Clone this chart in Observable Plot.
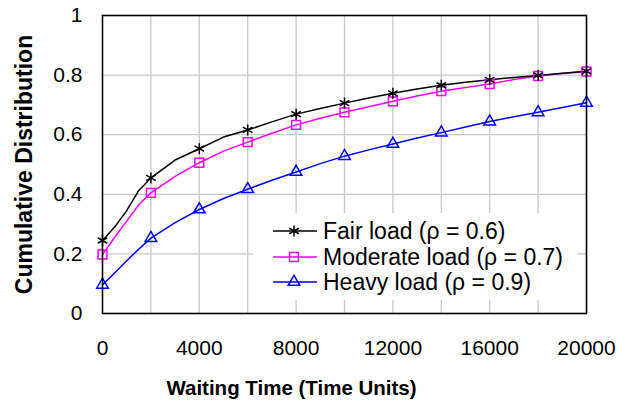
<!DOCTYPE html>
<html>
<head>
<meta charset="utf-8">
<script src="https://cdn.jsdelivr.net/npm/d3@7"></script>
<script src="https://cdn.jsdelivr.net/npm/@observablehq/plot@0.6"></script>
<style>
  html, body { margin: 0; padding: 0; background: white; }
  #chart { width: 617px; height: 404px; }
</style>
</head>
<body>
<div id="chart"></div>
<script>
// ---- data ----
const waitingTimes = [0, 500, 1000, 1500, 2000, 3000, 4000, 5000, 6000, 7000, 8000, 9000, 10000,
                      11000, 12000, 13000, 14000, 15000, 16000, 17000, 18000, 19000, 20000];
const fairLoad =     [0.245, 0.290, 0.345, 0.413, 0.455, 0.515, 0.553, 0.592, 0.616, 0.643, 0.669, 0.688, 0.706,
                      0.723, 0.739, 0.753, 0.766, 0.776, 0.784, 0.792, 0.799, 0.806, 0.813];
const moderateLoad = [0.198, 0.255, 0.310, 0.365, 0.405, 0.460, 0.506, 0.545, 0.575, 0.605, 0.633, 0.655, 0.675,
                      0.694, 0.712, 0.730, 0.746, 0.758, 0.770, 0.785, 0.797, 0.805, 0.812];
const heavyLoad =    [0.096, 0.136, 0.177, 0.216, 0.253, 0.305, 0.349, 0.386, 0.417, 0.447, 0.475, 0.503, 0.528,
                      0.549, 0.569, 0.589, 0.607, 0.626, 0.644, 0.660, 0.675, 0.691, 0.707];
const markerStep = 2000;
const seriesNames = ["Fair load (ρ = 0.6)", "Moderate load (ρ = 0.7)", "Heavy load (ρ = 0.9)"];
const seriesColors = ["#000000", "#ff00ff", "#0000ff"];
const seriesSymbols = ["asterisk", "square", "triangle"];
const xTickLabels = [0, 4000, 8000, 12000, 16000, 20000];
const xGridTicks = [2000, 4000, 6000, 8000, 10000, 12000, 14000, 16000, 18000];
const yTickLabels = [0, 0.2, 0.4, 0.6, 0.8, 1];
const yGridTicks = [0.2, 0.4, 0.6, 0.8];
const xTitle = "Waiting Time (Time Units)";
const yTitle = "Cumulative Distribution";

const font = "'Liberation Sans', Arial, Helvetica, sans-serif";
const seriesValues = [fairLoad, moderateLoad, heavyLoad];
const symbolR = [5.2, 5, 4.3];

const tables = seriesValues.map(vals => waitingTimes.map((t, i) => ({t, v: vals[i]})));
// draw order: heavy, moderate, fair
const order = [2, 1, 0];
const seriesMarks = [];
for (const k of order) {
  seriesMarks.push(Plot.line(tables[k], {x: "t", y: "v", stroke: seriesColors[k], strokeWidth: 1.5}));
}
for (const k of order) {
  seriesMarks.push(Plot.dot(tables[k].filter(d => d.t % markerStep === 0), {
    x: "t", y: "v", symbol: () => seriesSymbols[k], stroke: seriesColors[k], fill: "none",
    r: symbolR[k], strokeWidth: 1.5
  }));
}

const plot = Plot.plot({
  width: 617,
  height: 404,
  marginLeft: 102,
  marginRight: 31,
  marginTop: 15,
  marginBottom: 91,
  x: {domain: [0, 20000]},
  y: {domain: [0, 1]},
  symbol: {type: "identity"},
  style: {fontFamily: font, background: "white", color: "black"},
  marks: [
    Plot.gridX(xGridTicks, {stroke: "#c8c8c8", strokeOpacity: 1, strokeWidth: 1.3}),
    Plot.gridY(yGridTicks, {stroke: "#c8c8c8", strokeOpacity: 1, strokeWidth: 1.3}),
    ...seriesMarks,
    Plot.frame({stroke: "black", strokeWidth: 1.6}),
    Plot.axisX(xTickLabels, {tickSize: 0, tickPadding: 27, label: null, fontSize: 21, tickFormat: d => String(d)}),
    Plot.axisY(yTickLabels, {tickSize: 0, tickPadding: 20, label: null, fontSize: 21, tickFormat: d => String(d)}),
    Plot.text([xTitle], {frameAnchor: "bottom", dy: 75, dx: -53, lineAnchor: "middle", textAnchor: "middle", fontSize: 20.5, fontWeight: "bold", text: d => d}),
    Plot.text([yTitle], {frameAnchor: "left", dx: -78, rotate: -90, lineAnchor: "middle", textAnchor: "middle", fontSize: 23, fontWeight: "bold", text: d => d})
  ]
});

document.getElementById("chart").appendChild(plot);

// ---- legend (inside plot area, white box) ----
const svg = d3.select(plot);
const lg = svg.append("g").attr("font-family", font);
lg.append("rect").attr("x", 253).attr("y", 213).attr("width", 324).attr("height", 87).attr("fill", "white");
const symbolTypes = {asterisk: d3.symbolAsterisk, square: d3.symbolSquare, triangle: d3.symbolTriangle};
const rowY = [231, 257, 282];
seriesNames.forEach((name, k) => {
  const y = rowY[k];
  lg.append("line").attr("x1", 273).attr("x2", 317).attr("y1", y).attr("y2", y)
    .attr("stroke", seriesColors[k]).attr("stroke-width", 1.5);
  lg.append("path").attr("transform", `translate(294,${y})`)
    .attr("d", d3.symbol(symbolTypes[seriesSymbols[k]], symbolR[k] * symbolR[k] * Math.PI)())
    .attr("fill", "none").attr("stroke", seriesColors[k]).attr("stroke-width", 1.5);
  lg.append("text").attr("x", 323).attr("y", y).attr("dy", "0.35em")
    .attr("text-anchor", "start")
    .attr("font-size", 23).attr("fill", "black").text(name);
});
</script>
</body>
</html>
